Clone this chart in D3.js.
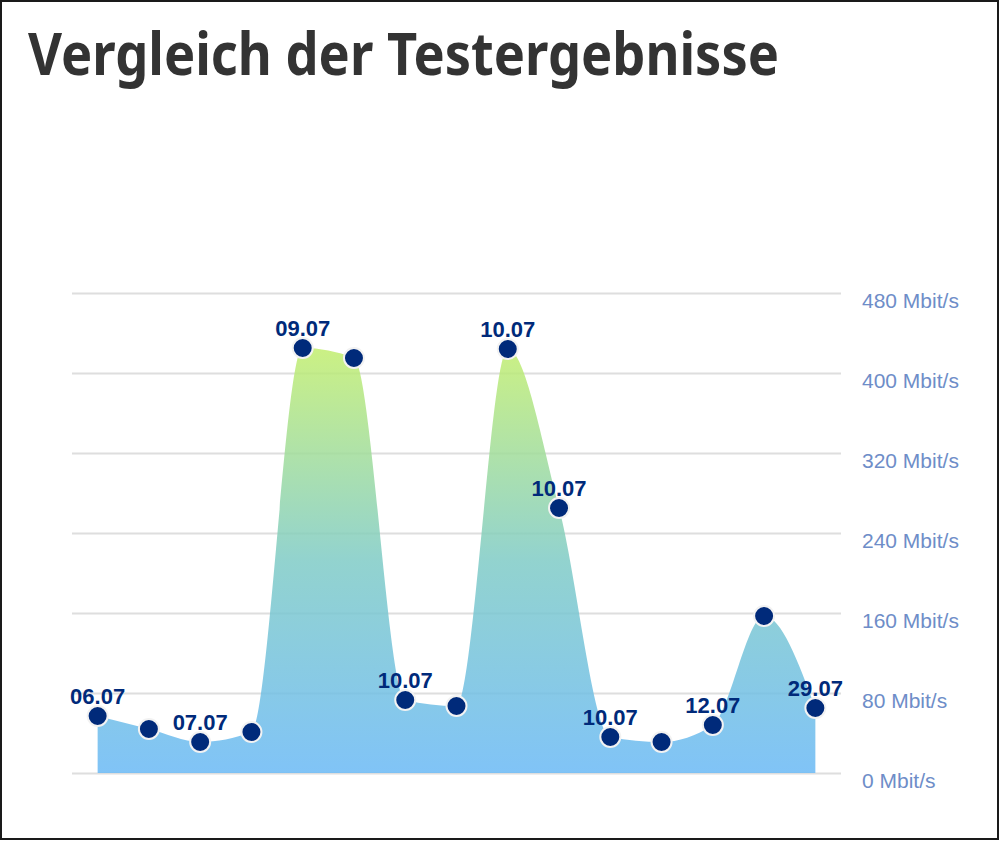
<!DOCTYPE html>
<html>
<head>
<meta charset="utf-8">
<script src="https://cdn.jsdelivr.net/npm/d3@7"></script>
<style>
    body { margin: 0; background: #fff; }
    svg { display: block; }
</style>
</head>
<body>
<svg id="chart" width="999" height="841"></svg>
<script>
'use strict';

// test results, one point per test
var tests = ['t1', 't2', 't3', 't4', 't5', 't6', 't7', 't8', 't9', 't10', 't11', 't12', 't13', 't14', 't15'];
var speeds = [57, 44, 31, 41, 425, 415, 73, 67, 424, 265, 36, 31, 48, 157, 65];
var dateLabels = ['06.07', '', '07.07', '', '09.07', '', '10.07', '', '10.07', '10.07', '10.07', '', '12.07', '', '29.07'];
var yTicks = [0, 80, 160, 240, 320, 400, 480];

var chartW = 999, chartH = 841;
var plotLeft = 72, plotRight = 841, plotTop = 293, plotBottom = 773;

var svg = d3.select('#chart');

var x = d3.scalePoint().domain(tests).range([plotLeft, plotRight]).padding(0.5);
var y = d3.scaleLinear().domain([0, 480]).range([plotBottom, plotTop]);

var data = tests.map(function(t, i) { return {t: t, v: speeds[i], label: dateLabels[i]}; });

// gradient fill, green at the peak, blue near zero
var grad = svg.append('defs').append('linearGradient')
    .attr('id', 'areaGrad')
    .attr('gradientUnits', 'userSpaceOnUse')
    .attr('x1', 0).attr('x2', 0)
    .attr('y1', y(d3.max(speeds))).attr('y2', y(0));
grad.append('stop').attr('offset', '0%').attr('stop-color', '#c2ee6e');
grad.append('stop').attr('offset', '50%').attr('stop-color', '#7fcbc6');
grad.append('stop').attr('offset', '100%').attr('stop-color', '#6ab9f5');

// outer frame
svg.append('rect')
    .attr('x', 1).attr('y', 1)
    .attr('width', chartW - 2).attr('height', chartH - 3)
    .attr('fill', 'none')
    .attr('stroke', '#1a1a1a')
    .attr('stroke-width', 2);

// title
var title = svg.append('text')
    .attr('x', 28).attr('y', 75)
    .style('font-family', '"Noto Sans", sans-serif')
    .style('font-weight', 'bold')
    .style('font-size', '60px')
    .style('fill', '#333333')
    .text('Vergleich der Testergebnisse');
title.attr('textLength', 751).attr('lengthAdjust', 'spacingAndGlyphs');

// grid + y labels
var yAxis = d3.axisRight(y)
    .tickValues(yTicks)
    .tickSize(plotRight - plotLeft)
    .tickFormat(function(d) { return d + ' Mbit/s'; });

var ga = svg.append('g')
    .attr('transform', 'translate(' + plotLeft + ',0)')
    .call(yAxis);
ga.select('.domain').remove();
ga.selectAll('.tick line')
    .attr('stroke', '#dedede')
    .attr('stroke-width', 2);
ga.selectAll('.tick text')
    .attr('x', 862 - plotLeft)
    .attr('dy', 14.5)
    .style('font-family', '"Liberation Sans", Arial, sans-serif')
    .style('font-size', '21px')
    .style('fill', '#6e8dc8');

// area
var area = d3.area()
    .x(function(d) { return x(d.t); })
    .y0(y(0))
    .y1(function(d) { return y(d.v); })
    .curve(d3.curveMonotoneX);

svg.append('path')
    .datum(data)
    .attr('d', area)
    .attr('fill', 'url(#areaGrad)')
    .attr('fill-opacity', 0.85);

// points
svg.append('g').selectAll('circle')
    .data(data)
    .enter()
    .append('circle')
    .attr('cx', function(d) { return x(d.t); })
    .attr('cy', function(d) { return y(d.v); })
    .attr('r', 10)
    .attr('fill', '#002a7a')
    .attr('stroke', '#f2f2f2')
    .attr('stroke-width', 2);

// date labels
svg.append('g').selectAll('text')
    .data(data.filter(function(d) { return d.label !== ''; }))
    .enter()
    .append('text')
    .attr('x', function(d) { return x(d.t); })
    .attr('y', function(d) { return y(d.v) - 12; })
    .attr('text-anchor', 'middle')
    .style('font-family', '"Liberation Sans", Arial, sans-serif')
    .style('font-weight', 'bold')
    .style('font-size', '22px')
    .style('fill', '#002a7a')
    .text(function(d) { return d.label; });
</script>
</body>
</html>
